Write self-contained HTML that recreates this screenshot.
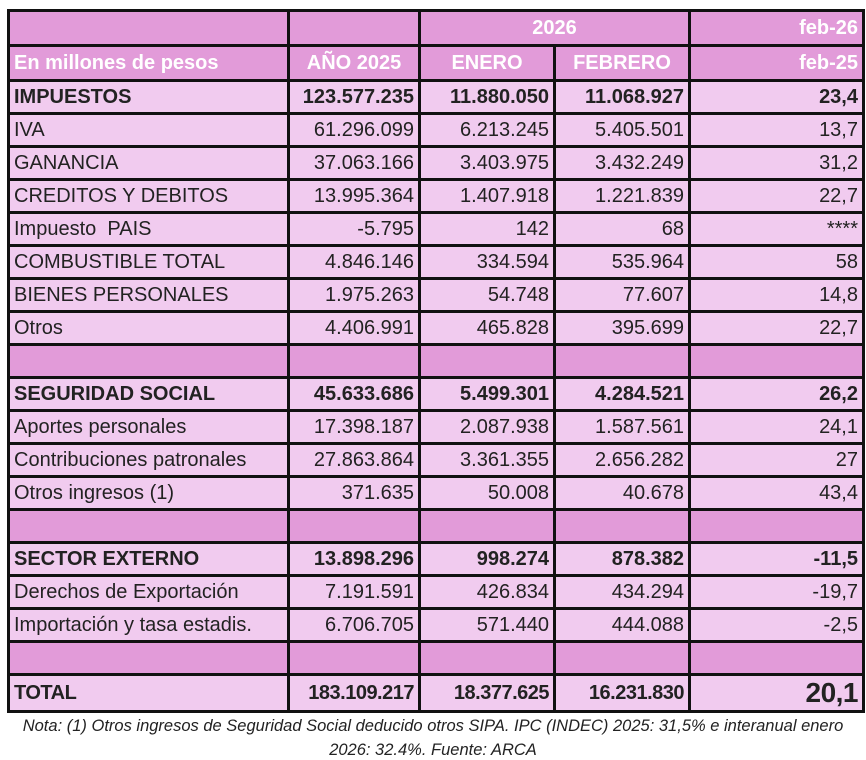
<!DOCTYPE html>
<html><head><meta charset="utf-8"><style>
body{margin:0;background:#fff;width:866px;height:760px;overflow:hidden;font-family:"Liberation Sans",Arial,sans-serif;}
table{position:absolute;left:7px;top:9px;border-collapse:collapse;table-layout:fixed;}
td{border:3px solid #111;padding:0 4px;font-size:20px;color:#222;white-space:nowrap;overflow:hidden;background:#f1cbef;text-align:right;height:30px;line-height:30px;box-sizing:content-box;}
td.l{text-align:left;}
tr.h td{background:#e29bd9;color:#fff;font-weight:bold;height:32px;line-height:32px;}
tr.bl td{background:#e29bd9;}
tr.b td{font-weight:bold;}
tr.t td{font-weight:bold;height:34px;line-height:34px;letter-spacing:-0.5px;}
.note{position:absolute;left:0;width:866px;text-align:center;font-style:italic;font-size:16.5px;color:#222;}
</style></head><body>
<table>
<colgroup><col style="width:280px"><col style="width:131px"><col style="width:135px"><col style="width:135px"><col style="width:174px"></colgroup>
<tr class="h"><td></td><td></td><td colspan="2" style="text-align:center">2026</td><td>feb-26</td></tr>
<tr class="h"><td class="l">En millones de pesos</td><td style="text-align:center">AÑO 2025</td><td style="text-align:center">ENERO</td><td style="text-align:center">FEBRERO</td><td>feb-25</td></tr>
<tr class="b"><td class="l">IMPUESTOS</td><td>123.577.235</td><td>11.880.050</td><td>11.068.927</td><td>23,4</td></tr>
<tr><td class="l">IVA</td><td>61.296.099</td><td>6.213.245</td><td>5.405.501</td><td>13,7</td></tr>
<tr><td class="l">GANANCIA</td><td>37.063.166</td><td>3.403.975</td><td>3.432.249</td><td>31,2</td></tr>
<tr><td class="l">CREDITOS Y DEBITOS</td><td>13.995.364</td><td>1.407.918</td><td>1.221.839</td><td>22,7</td></tr>
<tr><td class="l">Impuesto &nbsp;PAIS</td><td>-5.795</td><td>142</td><td>68</td><td>****</td></tr>
<tr><td class="l">COMBUSTIBLE TOTAL</td><td>4.846.146</td><td>334.594</td><td>535.964</td><td>58</td></tr>
<tr><td class="l">BIENES PERSONALES</td><td>1.975.263</td><td>54.748</td><td>77.607</td><td>14,8</td></tr>
<tr><td class="l">Otros</td><td>4.406.991</td><td>465.828</td><td>395.699</td><td>22,7</td></tr>
<tr class="bl"><td></td><td></td><td></td><td></td><td></td></tr>
<tr class="b"><td class="l">SEGURIDAD SOCIAL</td><td>45.633.686</td><td>5.499.301</td><td>4.284.521</td><td>26,2</td></tr>
<tr><td class="l">Aportes personales</td><td>17.398.187</td><td>2.087.938</td><td>1.587.561</td><td>24,1</td></tr>
<tr><td class="l">Contribuciones patronales</td><td>27.863.864</td><td>3.361.355</td><td>2.656.282</td><td>27</td></tr>
<tr><td class="l">Otros ingresos (1)</td><td>371.635</td><td>50.008</td><td>40.678</td><td>43,4</td></tr>
<tr class="bl"><td></td><td></td><td></td><td></td><td></td></tr>
<tr class="b"><td class="l">SECTOR EXTERNO</td><td>13.898.296</td><td>998.274</td><td>878.382</td><td>-11,5</td></tr>
<tr><td class="l">Derechos de Exportación</td><td>7.191.591</td><td>426.834</td><td>434.294</td><td>-19,7</td></tr>
<tr><td class="l">Importación y tasa estadis.</td><td>6.706.705</td><td>571.440</td><td>444.088</td><td>-2,5</td></tr>
<tr class="bl"><td></td><td></td><td></td><td></td><td></td></tr>
<tr class="t"><td class="l">TOTAL</td><td>183.109.217</td><td>18.377.625</td><td>16.231.830</td><td style="font-size:28px">20,1</td></tr>
</table>
<div class="note" style="top:717px">Nota: (1) Otros ingresos de Seguridad Social deducido otros SIPA. IPC (INDEC) 2025: 31,5% e interanual enero</div>
<div class="note" style="top:741px">2026: 32.4%. Fuente: ARCA</div>
</body></html>
